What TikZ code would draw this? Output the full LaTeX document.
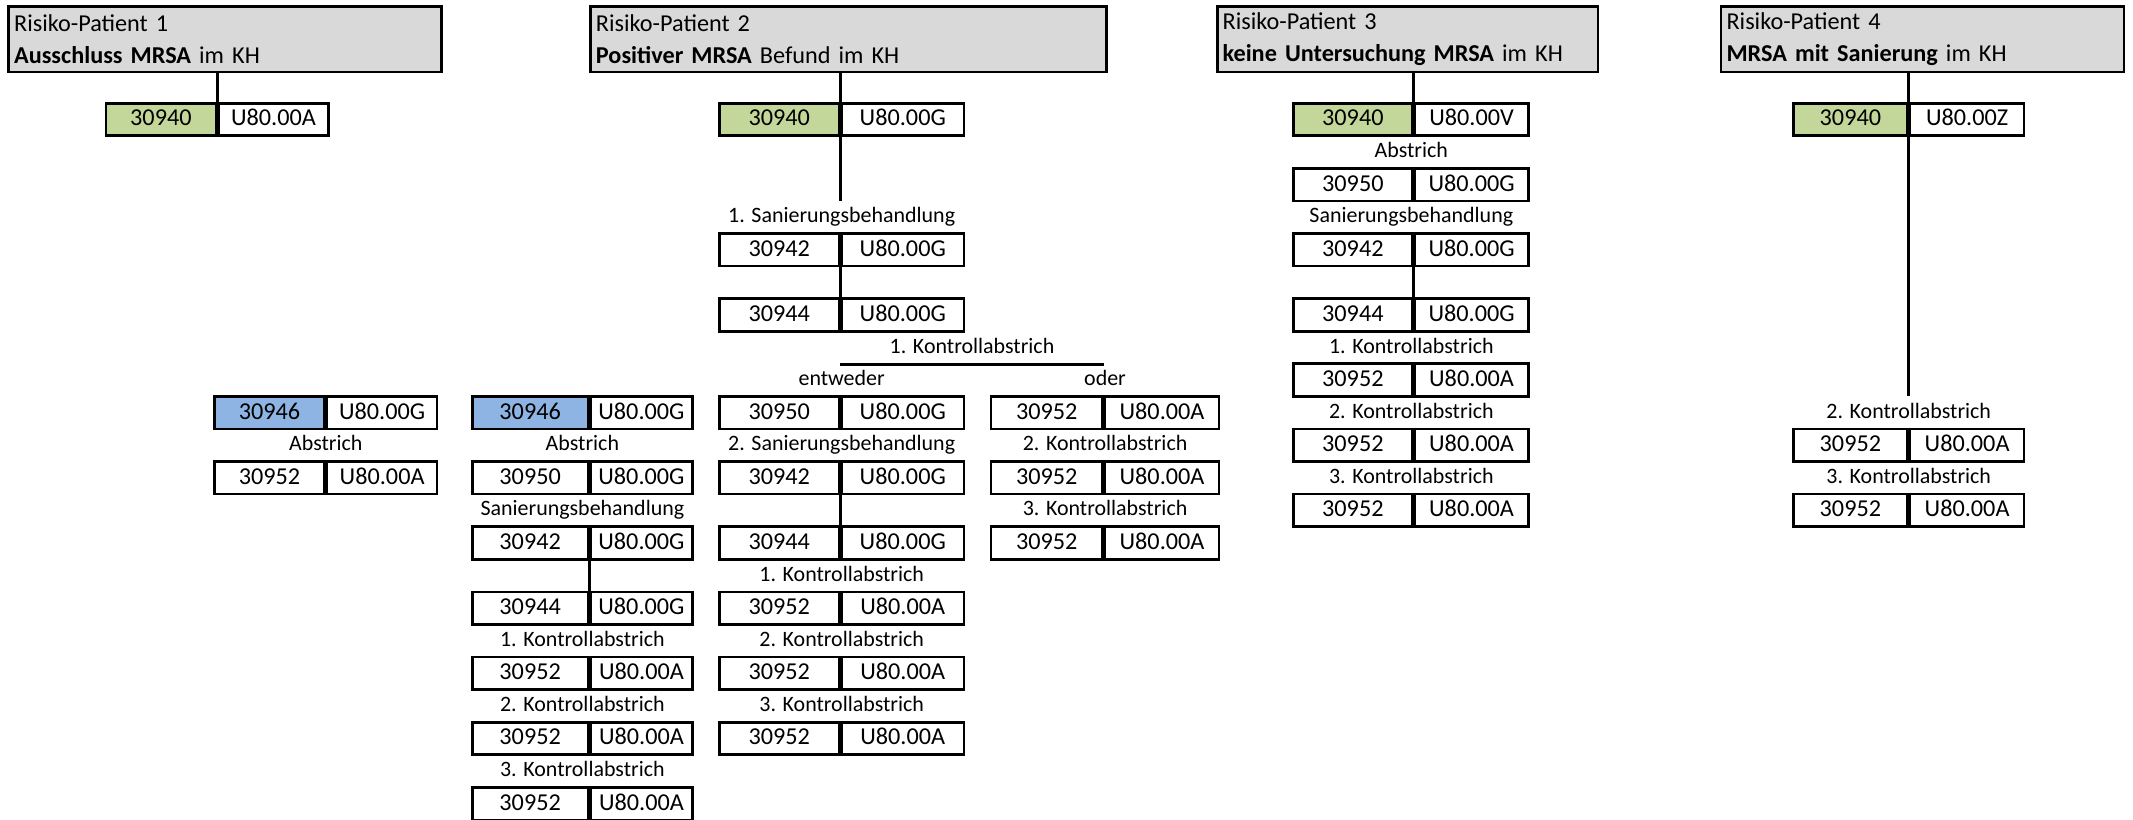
\documentclass[tikz,border=0pt]{standalone}
\usepackage{fontspec}
\setmainfont{Carlito}
\usepackage{tikz}
\usetikzlibrary{positioning}
\definecolor{mrgreen}{HTML}{C4D79B}
\definecolor{mrblue}{HTML}{8DB4E2}
\definecolor{mrgray}{HTML}{D9D9D9}
\tikzset{
  cell/.style={draw=black,line width=1.4pt,minimum height=6mm,inner sep=0pt,
    font=\fontsize{12.7}{15}\selectfont,text height=1.6ex,text depth=0.2ex},
  lcell/.style={cell,anchor=east},
  rcell/.style={cell,anchor=west},
  gopcell/.style={lcell,fill=mrgreen},
  bluecell/.style={lcell,fill=mrblue},
  steplbl/.style={inner sep=0pt,minimum height=6mm,
    font=\fontsize{11.5}{14}\selectfont,text height=1.6ex,text depth=0.4ex},
  hdrbox/.style={draw=black,line width=1.4pt,fill=mrgray,anchor=north west,
    minimum height=12mm,inner xsep=1mm,inner ysep=0pt,align=left,
    font=\fontsize{12.7}{17}\selectfont},
  conn/.style={line width=1.4pt,black},
}

\begin{document}
\begin{tikzpicture}
  \useasboundingbox (0,0) rectangle (39.28,-15.1);
  % headers
  \node[hdrbox,text width=7.77cm] (h1) at (0.135,-0.1) {Risiko-Patient 1\\\textbf{Ausschluss MRSA} im KH};
  \node[hdrbox,text width=9.3cm] (h2) at (10.85,-0.1) {Risiko-Patient 2\\\textbf{Positiver MRSA} Befund im KH};
  \node[hdrbox,text width=6.81cm] (h3) at (22.39,-0.1) {Risiko-Patient 3\\\textbf{keine Untersuchung MRSA} im KH};
  \node[hdrbox,text width=7.22cm] (h4) at (31.67,-0.1) {Risiko-Patient 4\\\textbf{MRSA mit Sanierung} im KH};

  % patient 1
  \begin{scope}[lcell/.append style={minimum width=2.025cm},rcell/.append style={minimum width=2.025cm}]
    \node[gopcell] (A1) at (4.0,-2.2) {30940};
    \node[rcell] (A1u) at (4.0,-2.2) {U80.00A};
  \end{scope}
  \begin{scope}[lcell/.append style={minimum width=2.025cm},rcell/.append style={minimum width=2.025cm}]
    \node[bluecell] (B1) at (6.0,-7.6) {30946};
    \node[rcell] (B1u) at (6.0,-7.6) {U80.00G};
    \node[steplbl] (B1t) at (6.0,-8.2) {Abstrich};
    \node[lcell] (B2) at (6.0,-8.8) {30952};
    \node[rcell] (B2u) at (6.0,-8.8) {U80.00A};
  \end{scope}
  \draw[conn] (h1.south -| A1.east) -- (A1.north east);

  % patient 2, middle column
  \begin{scope}[lcell/.append style={minimum width=2.125cm},rcell/.append style={minimum width=1.875cm}]
    \node[bluecell] (C1) at (10.85,-7.6) {30946};
    \node[rcell] (C1u) at (10.85,-7.6) {U80.00G};
    \node[steplbl] (C1t) at (10.725,-8.2) {Abstrich};
    \node[lcell] (C2) at (10.85,-8.8) {30950};
    \node[rcell] (C2u) at (10.85,-8.8) {U80.00G};
    \node[steplbl] (C2t) at (10.725,-9.4) {Sanierungsbehandlung};
    \node[lcell] (C3) at (10.85,-10.0) {30942};
    \node[rcell] (C3u) at (10.85,-10.0) {U80.00G};
    \node[lcell] (C4) at (10.85,-11.2) {30944};
    \node[rcell] (C4u) at (10.85,-11.2) {U80.00G};
    \node[steplbl] (C4t) at (10.725,-11.8) {1. Kontrollabstrich};
    \node[lcell] (C5) at (10.85,-12.4) {30952};
    \node[rcell] (C5u) at (10.85,-12.4) {U80.00A};
    \node[steplbl] (C5t) at (10.725,-13.0) {2. Kontrollabstrich};
    \node[lcell] (C6) at (10.85,-13.6) {30952};
    \node[rcell] (C6u) at (10.85,-13.6) {U80.00A};
    \node[steplbl] (C6t) at (10.725,-14.2) {3. Kontrollabstrich};
    \node[lcell] (C7) at (10.85,-14.8) {30952};
    \node[rcell] (C7u) at (10.85,-14.8) {U80.00A};
  \end{scope}
  \draw[conn] (C3.south east) -- (C4.north east);

  % patient 2, main column
  \begin{scope}[lcell/.append style={minimum width=2.2cm},rcell/.append style={minimum width=2.25cm}]
    \node[gopcell] (D0) at (15.475,-2.2) {30940};
    \node[rcell] (D0u) at (15.475,-2.2) {U80.00G};
    \node[steplbl] (D0t) at (15.5,-4.0) {1. Sanierungsbehandlung};
    \node[lcell] (D1) at (15.475,-4.6) {30942};
    \node[rcell] (D1u) at (15.475,-4.6) {U80.00G};
    \node[lcell] (D2) at (15.475,-5.8) {30944};
    \node[rcell] (D2u) at (15.475,-5.8) {U80.00G};
    \node[steplbl] (D2t) at (17.9,-6.4) {1. Kontrollabstrich};
    \node[steplbl] (D2e) at (15.5,-7.0) {entweder};
    \node[lcell] (D3) at (15.475,-7.6) {30950};
    \node[rcell] (D3u) at (15.475,-7.6) {U80.00G};
    \node[steplbl] (D3t) at (15.5,-8.2) {2. Sanierungsbehandlung};
    \node[lcell] (D4) at (15.475,-8.8) {30942};
    \node[rcell] (D4u) at (15.475,-8.8) {U80.00G};
    \node[lcell] (D5) at (15.475,-10.0) {30944};
    \node[rcell] (D5u) at (15.475,-10.0) {U80.00G};
    \node[steplbl] (D5t) at (15.5,-10.6) {1. Kontrollabstrich};
    \node[lcell] (D6) at (15.475,-11.2) {30952};
    \node[rcell] (D6u) at (15.475,-11.2) {U80.00A};
    \node[steplbl] (D6t) at (15.5,-11.8) {2. Kontrollabstrich};
    \node[lcell] (D7) at (15.475,-12.4) {30952};
    \node[rcell] (D7u) at (15.475,-12.4) {U80.00A};
    \node[steplbl] (D7t) at (15.5,-13.0) {3. Kontrollabstrich};
    \node[lcell] (D8) at (15.475,-13.6) {30952};
    \node[rcell] (D8u) at (15.475,-13.6) {U80.00A};
  \end{scope}

  % patient 2, right column
  \begin{scope}[lcell/.append style={minimum width=2.05cm},rcell/.append style={minimum width=2.1cm}]
    \node[steplbl] (E0t) at (20.35,-7.0) {oder};
    \node[lcell] (E1) at (20.325,-7.6) {30952};
    \node[rcell] (E1u) at (20.325,-7.6) {U80.00A};
    \node[steplbl] (E1t) at (20.35,-8.2) {2. Kontrollabstrich};
    \node[lcell] (E2) at (20.325,-8.8) {30952};
    \node[rcell] (E2u) at (20.325,-8.8) {U80.00A};
    \node[steplbl] (E2t) at (20.35,-9.4) {3. Kontrollabstrich};
    \node[lcell] (E3) at (20.325,-10.0) {30952};
    \node[rcell] (E3u) at (20.325,-10.0) {U80.00A};
  \end{scope}
  \draw[conn] (h2.south -| D0.east) -- (D0.north east);
  \draw[conn] (D0.south east) -- (D0.east |- D0t.north);
  \draw[conn] (D1.south east) -- (D2.north east);
  \draw[conn] (D2t.south -| D0.east) -- (D2t.south -| E1.east);
  \draw[conn] (D4.south east) -- (D5.north east);

  % patient 3
  \begin{scope}[lcell/.append style={minimum width=2.175cm},rcell/.append style={minimum width=2.1cm}]
    \node[gopcell] (F0) at (26.025,-2.2) {30940};
    \node[rcell] (F0u) at (26.025,-2.2) {U80.00V};
    \node[steplbl] (F0t) at (25.99,-2.8) {Abstrich};
    \node[lcell] (F1) at (26.025,-3.4) {30950};
    \node[rcell] (F1u) at (26.025,-3.4) {U80.00G};
    \node[steplbl] (F1t) at (25.99,-4.0) {Sanierungsbehandlung};
    \node[lcell] (F2) at (26.025,-4.6) {30942};
    \node[rcell] (F2u) at (26.025,-4.6) {U80.00G};
    \node[lcell] (F3) at (26.025,-5.8) {30944};
    \node[rcell] (F3u) at (26.025,-5.8) {U80.00G};
    \node[steplbl] (F3t) at (25.99,-6.4) {1. Kontrollabstrich};
    \node[lcell] (F4) at (26.025,-7.0) {30952};
    \node[rcell] (F4u) at (26.025,-7.0) {U80.00A};
    \node[steplbl] (F4t) at (25.99,-7.6) {2. Kontrollabstrich};
    \node[lcell] (F5) at (26.025,-8.2) {30952};
    \node[rcell] (F5u) at (26.025,-8.2) {U80.00A};
    \node[steplbl] (F5t) at (25.99,-8.8) {3. Kontrollabstrich};
    \node[lcell] (F6) at (26.025,-9.4) {30952};
    \node[rcell] (F6u) at (26.025,-9.4) {U80.00A};
  \end{scope}
  \draw[conn] (h3.south -| F0.east) -- (F0.north east);
  \draw[conn] (F2.south east) -- (F3.north east);

  % patient 4
  \begin{scope}[lcell/.append style={minimum width=2.1cm},rcell/.append style={minimum width=2.1cm}]
    \node[gopcell] (G0) at (35.15,-2.2) {30940};
    \node[rcell] (G0u) at (35.15,-2.2) {U80.00Z};
    \node[steplbl] (G0t) at (35.15,-7.6) {2. Kontrollabstrich};
    \node[lcell] (G1) at (35.15,-8.2) {30952};
    \node[rcell] (G1u) at (35.15,-8.2) {U80.00A};
    \node[steplbl] (G1t) at (35.15,-8.8) {3. Kontrollabstrich};
    \node[lcell] (G2) at (35.15,-9.4) {30952};
    \node[rcell] (G2u) at (35.15,-9.4) {U80.00A};
  \end{scope}
  \draw[conn] (h4.south -| G0.east) -- (G0.north east);
  \draw[conn] (G0.south east) -- (G0.east |- G0t.north);
\end{tikzpicture}
\end{document}
